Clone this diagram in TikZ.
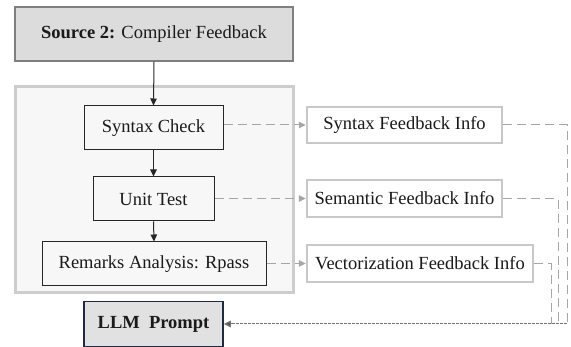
\documentclass[tikz,border=0pt]{standalone}
\usepackage{fontspec}
\setmainfont{Liberation Serif}
\usetikzlibrary{arrows.meta}
\definecolor{srcfill}{HTML}{DCDCDC}
\definecolor{srcdraw}{HTML}{7F7F7F}
\definecolor{contfill}{HTML}{F7F7F7}
\definecolor{contdraw}{HTML}{CDCDCD}
\definecolor{fbdraw}{HTML}{C8C8C8}
\definecolor{dashcol}{HTML}{A6A6A6}
\definecolor{llmfill}{HTML}{E1E1E1}
\definecolor{llmdraw}{HTML}{1F2A44}
\definecolor{txt}{HTML}{1A1A1A}
\tikzset{
  every node/.style={font=\rmfamily\fontsize{18.5}{22}\selectfont, text=txt, inner sep=0pt},
  stepbox/.style={draw=black!85, line width=1pt, fill=contfill},
  fbbox/.style={draw=fbdraw, line width=2.5pt, fill=white},
  flow/.style={draw=black!85, line width=1pt, -{Triangle[length=7pt,width=6.5pt]}},
  fbline/.style={draw=dashcol, line width=1pt, dash pattern=on 9pt off 5pt, -{Triangle[length=7pt,width=6.5pt]}},
  backline/.style={draw=dashcol, line width=1pt, dash pattern=on 9pt off 5pt},
  mergeline/.style={draw=black!55, line width=1pt, dash pattern=on 3pt off 1pt, -{Triangle[length=7pt,width=6.5pt,fill=black!65]}}
}
\begin{document}
\begin{tikzpicture}[x=1pt,y=-1pt]
\useasboundingbox (0,0) rectangle (571,347);
\node[draw=srcdraw, line width=1.5pt, fill=srcfill, minimum width=278pt, minimum height=54pt] (src) at (154,34) {\textbf{Source 2:} Compiler Feedback};
\node[draw=contdraw, line width=3pt, fill=contfill, minimum width=278pt, minimum height=206pt] (cont) at (154,190) {};
\node[stepbox, minimum width=139pt, minimum height=44pt] (syn) at (153.5,128) {Syntax Check};
\node[stepbox, minimum width=121pt, minimum height=44pt] (unit) at (153.5,199) {Unit Test};
\node[stepbox, minimum width=224pt, minimum height=44pt] (rem) at (154,264) {Remarks Analysis: Rpass};
\node[fbbox, minimum width=195pt, minimum height=36pt] (sfi) at (404.5,125) {Syntax Feedback Info};
\node[fbbox, minimum width=195pt, minimum height=37pt] (semfi) at (404.5,198.5) {Semantic Feedback Info};
\node[fbbox, minimum width=226pt, minimum height=37pt] (vfi) at (420,263.5) {Vectorization Feedback Info};
\node[draw=llmdraw, line width=1.5pt, fill=llmfill, minimum width=139pt, minimum height=45pt] (llm) at (153.5,324) {\textbf{LLM~~Prompt}};
\coordinate (c1) at (567,324);
\coordinate (c2) at (558,324);
\coordinate (c3) at (551,324);
\draw[flow] (src.south) -- (syn.north);
\draw[flow] (syn.south) -- (unit.north);
\draw[flow] (unit.south) -- (rem.north);
\draw[fbline] (syn.east |- sfi.west) -- (sfi.west);
\draw[fbline] (unit.east |- semfi.west) -- (semfi.west);
\draw[fbline] (rem.east |- vfi.west) -- (vfi.west);
\draw[backline] (sfi.east) -| (c1);
\draw[backline] (semfi.east) -| (c2);
\draw[backline] (vfi.east) -| (c3);
\draw[mergeline] (c1) -- (llm.east);
\end{tikzpicture}
\end{document}
